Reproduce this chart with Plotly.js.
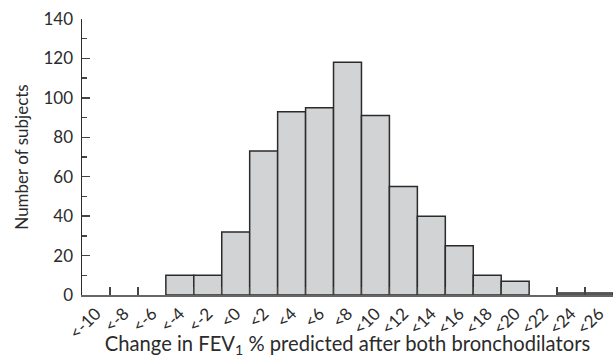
<!DOCTYPE html>
<html><head><meta charset="utf-8">
<script src="https://cdn.plot.ly/plotly-3.0.1.min.js"></script>
<style>body{margin:0;background:#fff}#c{width:613px;height:358px}</style>
</head><body><div id="c"></div>
<script>
const categories = ["<-10","<-8","<-6","<-4","<-2","<0","<2","<4","<6","<8","<10","<12","<14","<16","<18","<20","<22","<24","<26"];
const counts = [0,0,0,10,10,32,73,93,95,118,91,55,40,25,10,7,0,1,1];
const yTicks = [0,20,40,60,80,100,120,140];

const font = "Lato, 'Open Sans', sans-serif";
const ink = '#2b2b2b';
Plotly.newPlot('c', [{
  type: 'bar',
  x: categories,
  y: counts.map(v => v === 0 ? null : v),
  marker: {color: '#d2d3d5', line: {color: ink, width: 1.5}},
  hoverinfo: 'skip'
}], {
  width: 613, height: 358,
  margin: {l: 82, r: 0, t: 19, b: 63},
  paper_bgcolor: '#fff', plot_bgcolor: '#fff',
  bargap: 0,
  showlegend: false,
  font: {family: font, color: ink, size: 17},
  xaxis: {
    type: 'category',
    tickson: 'boundaries',
    ticks: 'inside', ticklen: 8, tickwidth: 1.3, tickcolor: '#444',
    tickangle: -45,
    tickfont: {size: 17, family: font, color: ink},
    showline: true, linecolor: '#666', linewidth: 2,
    showgrid: false, zeroline: false,
    automargin: false,
    title: {text: 'Change in FEV<sub>1</sub> % predicted after both bronchodilators', font: {size: 20.2, family: font, color: ink}, standoff: 5}
  },
  yaxis: {
    range: [0, 140],
    tickvals: yTicks,
    ticks: 'inside', ticklen: 8, tickwidth: 1.3, tickcolor: '#444',
    minor: {dtick: 10, ticks: 'inside', ticklen: 5, tickwidth: 1.3, tickcolor: '#444'},
    tickfont: {size: 17, family: font, color: ink},
    ticklabelstandoff: 4,
    showline: true, linecolor: ink, linewidth: 1.5,
    showgrid: false, zeroline: false,
    automargin: false,
    title: {text: 'Number of subjects', font: {size: 17, family: font, color: ink}, standoff: 10}
  }
}, {displayModeBar: false, staticPlot: true});
</script></body></html>
